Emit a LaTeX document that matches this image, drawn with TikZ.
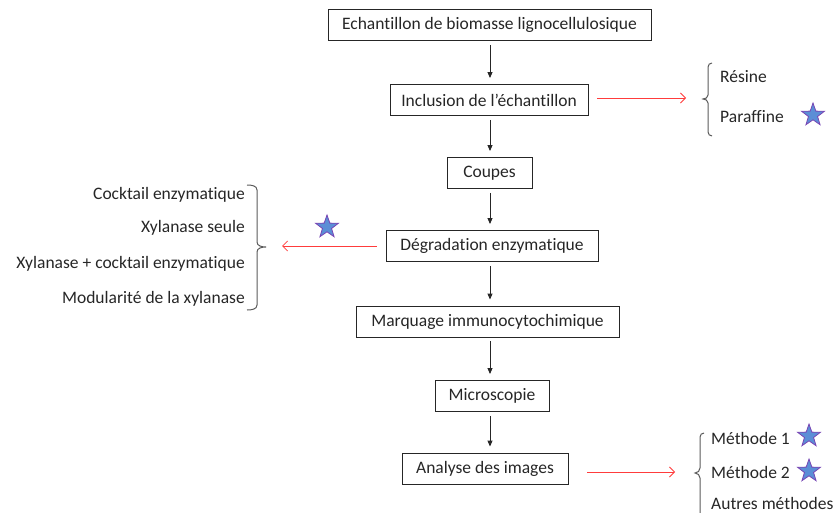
\documentclass[tikz,border=0pt]{standalone}
\usepackage{fontspec}
\setmainfont{Carlito}[Ligatures=NoCommon]
\usetikzlibrary{arrows.meta,shapes.geometric}
\definecolor{starfill}{RGB}{91,142,214}
\definecolor{starline}{RGB}{120,70,180}
\definecolor{redarr}{RGB}{255,60,60}
\definecolor{bracegray}{RGB}{90,90,90}
\begin{document}
\begin{tikzpicture}[x=1pt,y=-1pt,
  every node/.style={font=\fontsize{17.5}{20}\selectfont, text=black!85},
  stepbox/.style={draw=black!85, line width=0.9pt, minimum height=31pt, inner sep=0pt, align=center},
  blackarr/.style={draw=black!85, line width=0.9pt, -{Triangle[width=5pt,length=6pt]}},
  redarrow/.style={draw=redarr, line width=0.8pt, -{Straight Barb[length=5pt,width=10pt]}},
  bracestyle/.style={draw=bracegray, line width=1pt},
  lbl/.style={inner sep=0pt},
  starmark/.style={star, star points=5, star point ratio=2.5, minimum size=24pt, inner sep=0pt, fill=starfill, draw=starline, line width=0.8pt}]
\useasboundingbox (0,0) rectangle (835,513);

\node[stepbox, minimum width=323pt] (b1) at (489.5,25) {Echantillon de biomasse lignocellulosique};
\node[stepbox, minimum width=198pt] (b2) at (489,100) {Inclusion de l’échantillon};
\node[stepbox, minimum width=85pt]  (b3) at (489.5,173) {Coupes};
\node[stepbox, minimum width=212pt] (b4) at (492,246) {Dégradation enzymatique};
\node[stepbox, minimum width=263pt] (b5) at (487.5,321.5) {Marquage immunocytochimique};
\node[stepbox, minimum width=114pt] (b6) at (492,396) {Microscopie};
\node[stepbox, minimum width=166pt] (b7) at (485,468.5) {Analyse des images};

\coordinate (ax) at (490,0);
\foreach \a/\b in {b1/b2,b2/b3,b3/b4,b4/b5,b5/b6,b6/b7}{
  \draw[blackarr] ([yshift=-4pt]\a.south -| ax) -- ([yshift=6pt]\b.north -| ax);
}

% right group 1
\coordinate (t1) at (686,98);
\draw[redarrow] ([xshift=9pt]b2.east |- t1) -- (t1);
\draw[bracestyle] (712,63) to[out=180,in=90] (708,67) -- (708,95) to[out=270,in=0] (703,99) to[out=0,in=90] (708,103) -- (708,132) to[out=270,in=180] (712,136);
\node[lbl, anchor=west] (r1) at (720,77) {Résine};
\node[lbl, anchor=west] (r2) at (720,117) {Paraffine};
\node[starmark] (s1) at (813,115) {};

% left group
\coordinate (t2) at (282,246);
\draw[redarrow] ([xshift=-9pt]b4.west |- t2) -- (t2);
\draw[bracestyle] (247,185) to[out=0,in=90] (257,190) -- (257,242) to[out=270,in=180] (266,247) to[out=180,in=90] (257,252) -- (257,305) to[out=270,in=0] (247,310);
\node[lbl, anchor=east] (l1) at (245,195) {Cocktail enzymatique};
\node[lbl, anchor=east] (l2) at (245,228) {Xylanase seule};
\node[lbl, anchor=east] (l3) at (245,264) {Xylanase + cocktail enzymatique};
\node[lbl, anchor=east] (l4) at (245,299) {Modularité de la xylanase};
\node[starmark] (s2) at (327,227) {};

% bottom right group
\coordinate (t3) at (675,472);
\draw[redarrow] ([xshift=19pt]b7.east |- t3) -- (t3);
\draw[bracestyle] (704,433) to[out=180,in=90] (700,437) -- (700,468) to[out=270,in=0] (695,473) to[out=0,in=90] (700,478) -- (700,525);
\node[lbl, anchor=west] (m1) at (711,438) {Méthode 1};
\node[lbl, anchor=west] (m2) at (711,472) {Méthode 2};
\node[lbl, anchor=west] (m3) at (711,503.5) {Autres méthodes};
\node[starmark] (s3) at (809,436) {};
\node[starmark] (s4) at (809,471) {};
\end{tikzpicture}
\end{document}
